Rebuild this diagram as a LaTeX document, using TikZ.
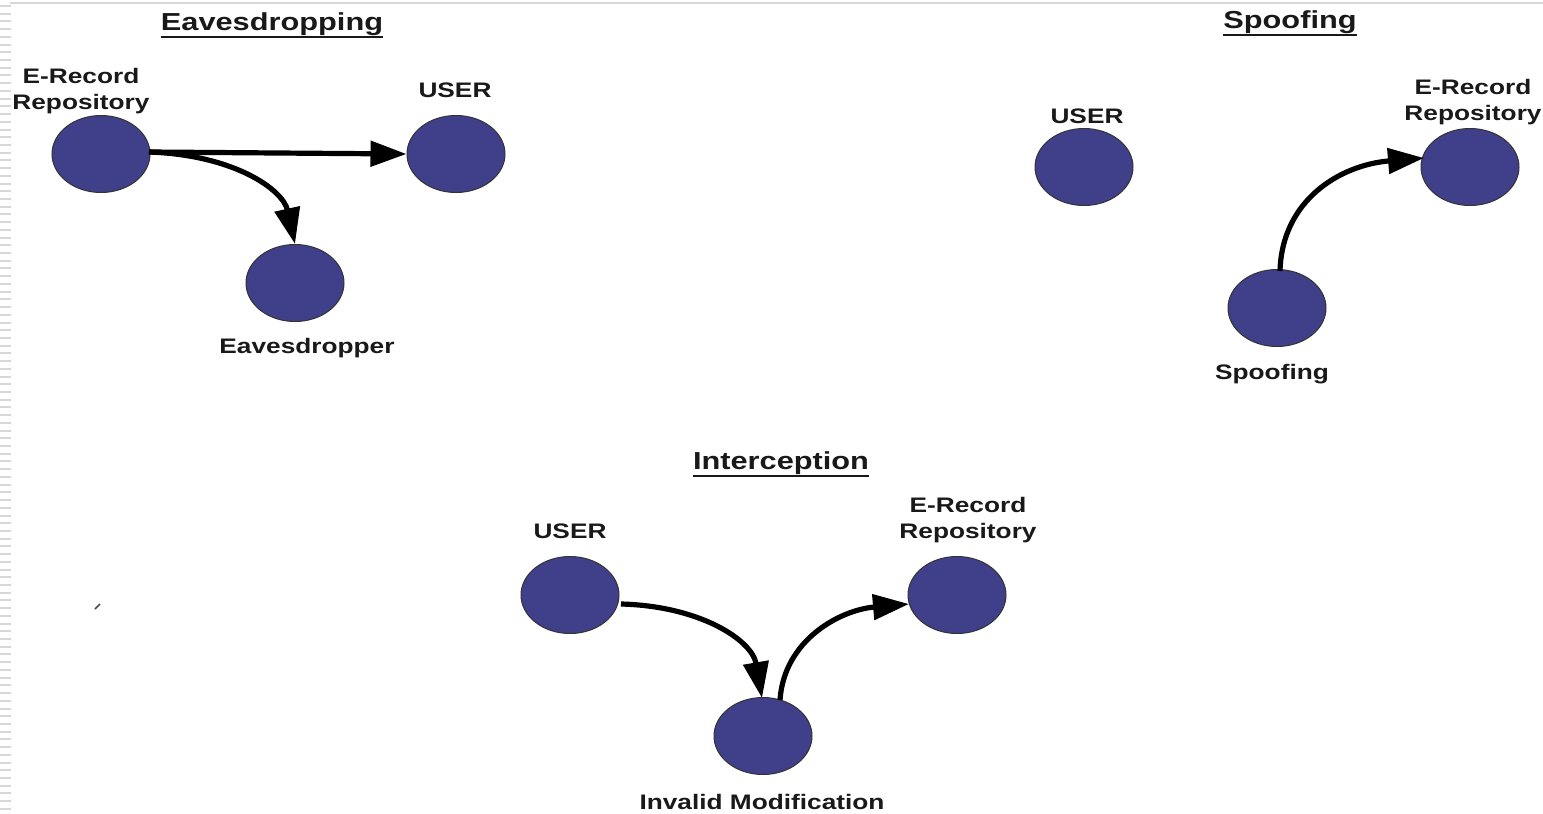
\documentclass[tikz,border=0pt]{standalone}
\usepackage{fontspec}
\setmainfont{Liberation Sans}[FakeStretch=1.25]
\usetikzlibrary{shapes.geometric,arrows.meta}
\definecolor{nodeblue}{RGB}{63,63,138}
\definecolor{hatch}{RGB}{215,215,215}
\tikzset{
  party/.style={ellipse,draw=black!80,line width=0.5pt,fill=nodeblue,minimum width=49pt,minimum height=38.5pt,inner sep=0pt},
  lbl/.style={font=\fontsize{10.5}{13}\selectfont\bfseries,align=center,inner sep=0pt,text=black!90},
  ttl/.style={font=\fontsize{12.3}{14}\selectfont\bfseries,inner sep=0pt,text=black!90},
  uline/.style={line width=0.9pt,black!90},
  flow/.style={line width=2.6pt,-{Triangle[length=18pt,width=12.5pt]}}
}
\begin{document}
\begin{tikzpicture}[x=0.5pt,y=-0.5pt]
\useasboundingbox (0,0) rectangle (1543,814);
% page decoration
\draw[hatch,line width=0.6pt] (10,3) -- (1543,3);
\foreach \k in {0,...,104} {\draw[hatch,line width=1pt] (0,{6+7.72*\k}) -- (11,{6+7.72*\k});}
\draw[black!70,line width=0.8pt] (95,609) -- (100,604);
% Eavesdropping
\node[ttl] (t1) at (272,24) {Eavesdropping};
\draw[uline] ([yshift=-0.6pt]t1.south west) -- ([yshift=-0.6pt]t1.south east);
\node[party] (er1) at (101,154) {};
\node[party] (u1) at (456,154) {};
\node[party] (ev) at (295,283) {};
\node[lbl] (ler1) at (81,91) {E-Record\\Repository};
\node[lbl] (lu1) at (455,90) {USER};
\node[lbl] (lev) at (307,348) {Eavesdropper};
\coordinate (s1) at (149,152);
\draw[flow] (s1) -- (u1.west);
\draw[flow] (s1) .. controls (235,155) and (283,190) .. (ev.north);
% Spoofing
\node[ttl] (t2) at (1290,22) {Spoofing};
\draw[uline] ([yshift=-0.6pt]t2.south west) -- ([yshift=-0.6pt]t2.south east);
\node[party] (u2) at (1084,167) {};
\node[party] (er2) at (1470,167) {};
\node[party] (sp) at (1277,308) {};
\node[lbl] (lu2) at (1087,116) {USER};
\node[lbl] (ler2) at (1473,102) {E-Record\\Repository};
\node[lbl] (lsp) at (1272,374) {Spoofing};
\coordinate (s2) at (1280,271);
\coordinate (e2) at (1424,158);
\draw[flow] (s2) .. controls (1282,200) and (1340,165) .. (e2);
% Interception
\node[ttl] (t3) at (781,463) {Interception};
\draw[uline] ([yshift=-0.6pt]t3.south west) -- ([yshift=-0.6pt]t3.south east);
\node[party] (u3) at (570,595) {};
\node[party] (er3) at (957,595) {};
\node[party] (im) at (763,736) {};
\node[lbl] (lu3) at (570,531) {USER};
\node[lbl] (ler3) at (968,520) {E-Record\\Repository};
\node[lbl] (lim) at (762,802) {Invalid Modification};
\coordinate (s3) at (621,604);
\coordinate (e3) at (762,698);
\draw[flow] (s3) .. controls (700,606) and (752,640) .. (e3);
\coordinate (s4) at (780,700);
\coordinate (e4) at (909,604);
\draw[flow] (s4) .. controls (784,640) and (840,610) .. (e4);
\end{tikzpicture}
\end{document}
